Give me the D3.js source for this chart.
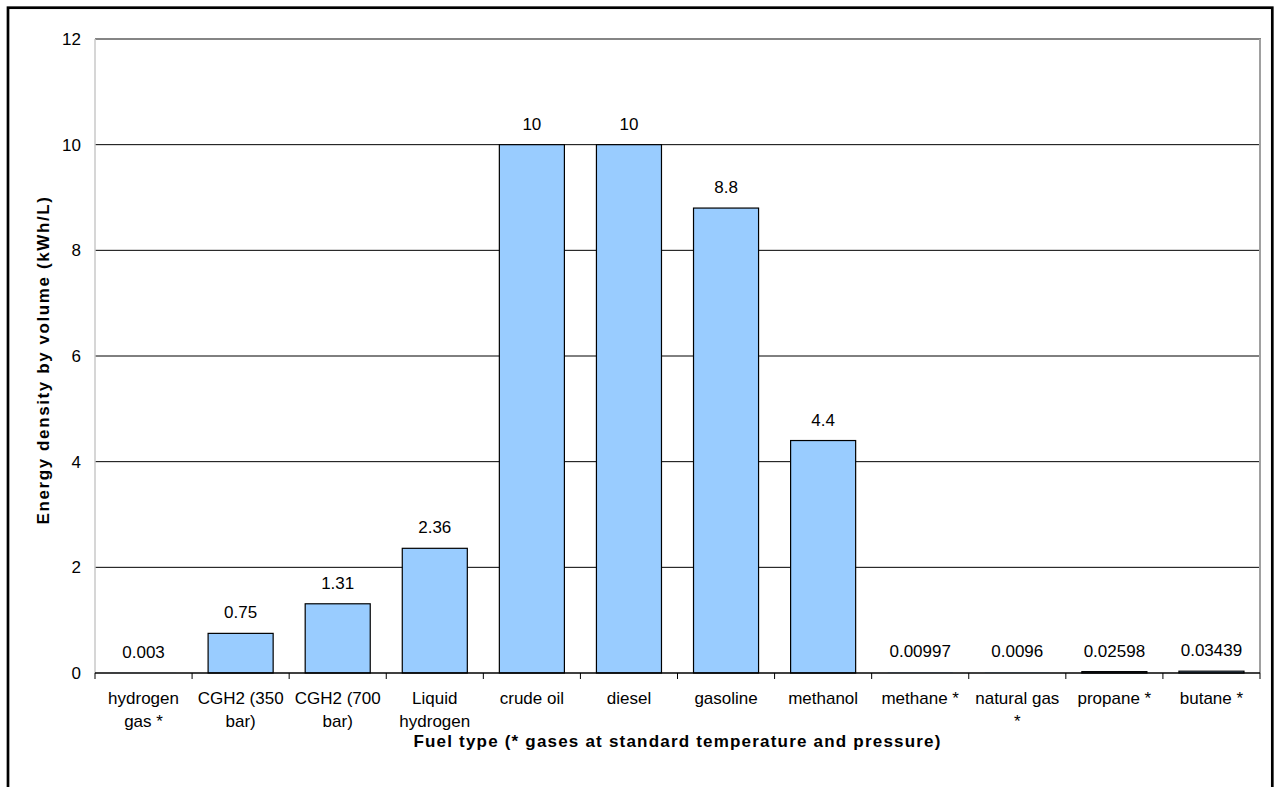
<!DOCTYPE html>
<html>
<head>
<meta charset="utf-8">
<script src="https://cdn.jsdelivr.net/npm/d3@7"></script>
<style>
  html, body { margin: 0; padding: 0; background: #fff; }
  svg { display: block; }
  text { font-family: "Liberation Sans", Arial, sans-serif; fill: #000; }
</style>
</head>
<body>
<svg id="chart" width="1279" height="787"></svg>
<script>
const categories = ["hydrogen gas *", "CGH2 (350 bar)", "CGH2 (700 bar)", "Liquid hydrogen", "crude oil", "diesel", "gasoline", "methanol", "methane *", "natural gas *", "propane *", "butane *"];
const categoryLines = [["hydrogen", "gas *"], ["CGH2 (350", "bar)"], ["CGH2 (700", "bar)"], ["Liquid", "hydrogen"], ["crude oil"], ["diesel"], ["gasoline"], ["methanol"], ["methane *"], ["natural gas", "*"], ["propane *"], ["butane *"]];
const values = [0.003, 0.75, 1.31, 2.36, 10, 10, 8.8, 4.4, 0.00997, 0.0096, 0.02598, 0.03439];
const valueLabels = ["0.003", "0.75", "1.31", "2.36", "10", "10", "8.8", "4.4", "0.00997", "0.0096", "0.02598", "0.03439"];
const yTicks = [0, 2, 4, 6, 8, 10, 12];
const yTitle = "Energy density by volume (kWh/L)";
const xTitle = "Fuel type (* gases at standard temperature and pressure)";

const svg = d3.select("#chart");
const L = 95, R = 1260, T = 39, B = 673;

// outer frame
svg.append("rect").attr("x", 8).attr("y", 7.7).attr("width", 1264.3).attr("height", 900)
  .attr("fill", "none").attr("stroke", "#000").attr("stroke-width", 2.7);

const x = d3.scaleBand().domain(categories).range([L, R]).paddingInner(0.33).paddingOuter(0.165);
const y = d3.scaleLinear().domain([0, 12]).range([B, T]);
const step = x.step();

// gridlines
svg.append("g").selectAll("line").data(yTicks.filter(t => t > 0 && t < 12)).join("line")
  .attr("x1", L).attr("x2", R).attr("y1", d => y(d)).attr("y2", d => y(d))
  .attr("stroke", "#000").attr("stroke-width", 1);

// plot frame lines
svg.append("line").attr("x1", L).attr("x2", R + 1).attr("y1", y(12)).attr("y2", y(12)).attr("stroke", "#858585").attr("stroke-width", 2);
svg.append("line").attr("x1", R).attr("x2", R).attr("y1", y(12)).attr("y2", B).attr("stroke", "#a0a0a0").attr("stroke-width", 2);
svg.append("line").attr("x1", L).attr("x2", L).attr("y1", y(12)).attr("y2", B).attr("stroke", "#c8c8c8").attr("stroke-width", 1.5);

// y tick labels
svg.append("g").selectAll("text").data(yTicks).join("text")
  .attr("x", 81).attr("y", d => y(d)).attr("dy", "0.35em")
  .attr("text-anchor", "end").style("font-size", "17px").text(d => d);

// bars (bars thinner than one pixel are not outlined, as in the original)
svg.append("g").selectAll("rect").data(values).join("rect")
  .attr("x", (d, i) => x(categories[i]))
  .attr("y", d => y(d))
  .attr("width", x.bandwidth())
  .attr("height", d => B - y(d))
  .attr("fill", "#99CCFF")
  .attr("stroke", d => (B - y(d)) < 1 ? "none" : "#000")
  .attr("stroke-width", 1.2);

// x axis line and ticks
svg.append("line").attr("x1", L).attr("x2", R).attr("y1", B).attr("y2", B).attr("stroke", "#000").attr("stroke-width", 1.5);
const tickPos = d3.range(categories.length + 1).map(i => L + i * step);
svg.append("g").selectAll("line").data(tickPos).join("line")
  .attr("x1", d => d).attr("x2", d => d).attr("y1", B).attr("y2", B + 6)
  .attr("stroke", "#000").attr("stroke-width", 1);

// value labels
svg.append("g").selectAll("text").data(values).join("text")
  .attr("x", (d, i) => x(categories[i]) + x.bandwidth() / 2)
  .attr("y", d => y(d) - 15)
  .attr("text-anchor", "middle").style("font-size", "17px")
  .text((d, i) => valueLabels[i]);

// category labels
const cat = svg.append("g").selectAll("text").data(categories).join("text")
  .attr("x", d => x(d) + x.bandwidth() / 2)
  .attr("y", 704)
  .attr("text-anchor", "middle").style("font-size", "17px");
cat.selectAll("tspan").data((d, i) => categoryLines[i].map((s, j) => ({ s, j, cx: x(d) + x.bandwidth() / 2 }))).join("tspan")
  .attr("x", t => t.cx).attr("dy", t => t.j === 0 ? 0 : 23).text(t => t.s);

// axis titles
svg.append("text").attr("x", (L + R) / 2).attr("y", 747)
  .attr("text-anchor", "middle").style("font-size", "17px").style("font-weight", "bold")
  .style("letter-spacing", "1.2px")
  .text(xTitle);
svg.append("text").attr("transform", `translate(43, ${(T + B) / 2 + 4}) rotate(-90)`)
  .attr("text-anchor", "middle").attr("dy", "0.35em").style("font-size", "17px").style("font-weight", "bold")
  .style("letter-spacing", "1.6px")
  .text(yTitle);
</script>
</body>
</html>
